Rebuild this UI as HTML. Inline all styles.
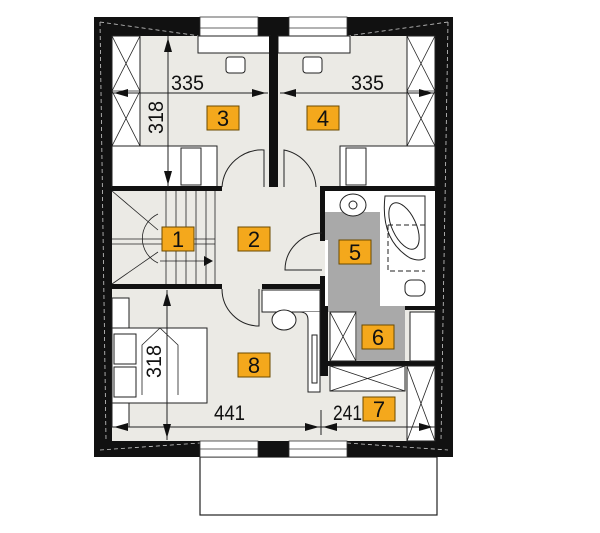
<!DOCTYPE html>
<html><head><meta charset="utf-8"><style>
html,body{margin:0;padding:0;background:#fff;width:600px;height:533px;overflow:hidden}
svg{display:block}
text{font-family:"Liberation Sans Narrow","Liberation Sans",sans-serif}
.n{font-size:22px;fill:#111;text-anchor:middle}
.d{font-size:21px;fill:#111}
</style></head><body>
<svg width="600" height="533" viewBox="0 0 600 533" xmlns="http://www.w3.org/2000/svg">
<rect x="200" y="457" width="237" height="58" fill="#fff" stroke="#222" stroke-width="1.2"/>
<rect x="94" y="17" width="359" height="440" fill="#111"/>
<rect x="112" y="36" width="323" height="405" fill="#ebeae5"/>
<g stroke="#ccc" stroke-width="0.8" stroke-dasharray="4,3" fill="none">
<line x1="100" y1="22" x2="200" y2="36"/><line x1="347" y1="36" x2="448" y2="22"/>
<line x1="100" y1="22" x2="106" y2="440"/><line x1="448" y1="22" x2="441" y2="440"/>
<line x1="100" y1="450" x2="200" y2="443"/><line x1="347" y1="443" x2="448" y2="450"/>
</g>
<g fill="#fff" stroke="#333" stroke-width="0.8">
<rect x="200" y="17" width="58" height="19"/><rect x="289" y="17" width="58" height="19"/>
<rect x="200" y="441" width="58" height="16"/><rect x="289" y="441" width="58" height="16"/>
</g>
<g stroke="#333" stroke-width="0.8">
<line x1="200" y1="28" x2="258" y2="28"/><line x1="289" y1="28" x2="347" y2="28"/>
<line x1="200" y1="449" x2="258" y2="449"/><line x1="289" y1="449" x2="347" y2="449"/>
</g>
<g fill="#fff" stroke="#222" stroke-width="1">
<rect x="198" y="36" width="72" height="17"/><rect x="278" y="36" width="72" height="17"/>
<rect x="226" y="57" width="19" height="16" rx="3"/><rect x="303" y="57" width="19" height="16" rx="3"/>
</g>
<g fill="#fff" stroke="#222" stroke-width="1">
<rect x="112" y="36" width="28" height="110"/><rect x="407" y="36" width="28" height="110"/>
<rect x="112" y="146" width="105" height="41"/><rect x="340" y="146" width="95" height="41"/>
<rect x="181" y="148" width="20" height="37"/><rect x="346" y="148" width="20" height="37"/>
</g>
<g stroke="#222" stroke-width="0.8">
<line x1="112" y1="36" x2="140" y2="91"/><line x1="140" y1="36" x2="112" y2="91"/>
<line x1="112" y1="91" x2="140" y2="146"/><line x1="140" y1="91" x2="112" y2="146"/>
<line x1="407" y1="36" x2="435" y2="91"/><line x1="435" y1="36" x2="407" y2="91"/>
<line x1="407" y1="91" x2="435" y2="146"/><line x1="435" y1="91" x2="407" y2="146"/>
<line x1="112" y1="91" x2="140" y2="91"/><line x1="407" y1="91" x2="435" y2="91"/>
</g>
<rect x="269" y="36" width="9" height="151" fill="#111"/>
<g fill="#111">
<rect x="112" y="186" width="110" height="5"/><rect x="320" y="186" width="115" height="5"/>
<rect x="112" y="284" width="110" height="5"/><rect x="262" y="284" width="68" height="5"/>
<rect x="320" y="186" width="5" height="55"/><rect x="320" y="276" width="8" height="100"/>
<rect x="325" y="290" width="30" height="22"/>
<rect x="328" y="361" width="107" height="5"/>
<rect x="405" y="306" width="30" height="4"/>
</g>
<g fill="none" stroke="#222" stroke-width="1">
<path d="M222 187 A40 40 0 0 1 264 150 L264 187"/>
<path d="M316 187 A40 40 0 0 0 284 150 L284 187"/>
<path d="M322 270 L285 270 A37 37 0 0 1 322 233"/>
<path d="M222 289 A37 37 0 0 0 259 326 L259 289"/>
</g>
<g stroke="#222" stroke-width="0.8" fill="none">
<line x1="112" y1="239" x2="215" y2="239"/><line x1="112" y1="244" x2="215" y2="244"/>
<line x1="166" y1="191" x2="166" y2="284"/><line x1="176" y1="191" x2="176" y2="284"/>
<line x1="186" y1="191" x2="186" y2="284"/><line x1="196" y1="191" x2="196" y2="284"/>
<line x1="206" y1="191" x2="206" y2="284"/><line x1="215" y1="191" x2="215" y2="284"/>
<path d="M158 214 A27 27 0 0 0 158 263"/>
<line x1="112" y1="191" x2="158" y2="230"/><line x1="112" y1="284" x2="158" y2="252"/>
<line x1="160" y1="261" x2="210" y2="261"/>
</g>
<polygon points="204,256 213,261 204,266" fill="#111"/>
<rect x="325" y="191" width="110" height="115" fill="#fff"/>
<polygon points="325,212 380,212 380,306 405,306 405,361 357,361 357,312 328,312 328,240 325,240" fill="#a9a9a9"/>
<g fill="#fff" stroke="#222" stroke-width="1">
<ellipse cx="353" cy="205" rx="13" ry="11"/><circle cx="353" cy="205" r="4"/>
<path d="M385 196 L425 196 L425 258 Q420 262 410 258 Q380 240 385 196Z"/>
<ellipse cx="404" cy="226" rx="12" ry="25" transform="rotate(-25 404 226)"/>
<rect x="405" y="280" width="20" height="16" rx="6"/>
<rect x="410" y="312" width="25" height="49"/>
</g>
<path d="M388 225 L425 225 M388 225 L388 271 L425 271" stroke="#222" stroke-dasharray="5,3" fill="none"/>
<g fill="#fff" stroke="#222" stroke-width="1">
<rect x="112" y="298" width="17" height="30"/>
<rect x="112" y="328" width="95" height="75"/>
<rect x="114" y="334" width="22" height="30"/><rect x="114" y="367" width="22" height="30"/>
<rect x="112" y="403" width="17" height="24"/>
<rect x="262" y="290" width="58" height="22"/>
<path d="M262 312 L300 312 Q308 312 308 320 L308 392 L320 392 L320 312"/>
<ellipse cx="284" cy="320" rx="12" ry="10"/>
<rect x="312" y="335" width="5" height="48"/>
<rect x="330" y="312" width="26" height="49"/>
<rect x="330" y="366" width="75" height="25"/>
<rect x="407" y="366" width="28" height="75"/>
</g>
<g stroke="#222" stroke-width="0.8">
<line x1="330" y1="312" x2="356" y2="361"/><line x1="356" y1="312" x2="330" y2="361"/>
<line x1="330" y1="366" x2="405" y2="391"/><line x1="405" y1="366" x2="330" y2="391"/>
<line x1="407" y1="366" x2="435" y2="441"/><line x1="435" y1="366" x2="407" y2="441"/>
<polyline points="142,395 142,345 160,328 178,345 178,395" fill="none"/>
</g>
<g stroke="#222" stroke-width="1">
<line x1="168" y1="36" x2="168" y2="187"/><line x1="112" y1="93" x2="268" y2="93"/>
<line x1="280" y1="93" x2="435" y2="93"/>
<line x1="167" y1="290" x2="167" y2="440"/><line x1="112" y1="427" x2="435" y2="427"/>
<line x1="321" y1="410" x2="321" y2="435"/>
</g>
<g fill="#111">
<polygon points="168,38 164,52 172,52"/><polygon points="168,185 164,171 172,171"/>
<polygon points="266,93 252,89 252,97"/><polygon points="282,93 296,89 296,97"/>
<polygon points="114,93 128,89 128,97"/><polygon points="433,93 419,89 419,97"/>
<polygon points="167,292 163,306 171,306"/><polygon points="167,438 163,424 171,424"/>
<polygon points="114,427 128,423 128,431"/><polygon points="319,427 305,423 305,431"/>
<polygon points="323,427 337,423 337,431"/><polygon points="433,427 419,423 419,431"/>
</g>
<text class="d" x="171" y="90" textLength="33" lengthAdjust="spacingAndGlyphs">335</text>
<text class="d" x="351" y="90" textLength="33" lengthAdjust="spacingAndGlyphs">335</text>
<text class="d" x="214" y="420" textLength="31" lengthAdjust="spacingAndGlyphs">441</text>
<text class="d" x="333" y="420" textLength="29" lengthAdjust="spacingAndGlyphs">241</text>
<text class="d" transform="translate(163,134) rotate(-90)" textLength="33" lengthAdjust="spacingAndGlyphs">318</text>
<text class="d" transform="translate(161,378) rotate(-90)" textLength="33" lengthAdjust="spacingAndGlyphs">318</text>
<g fill="#f4a81c" stroke="#6b4a00" stroke-width="1">
<rect x="207" y="106" width="32" height="24"/><rect x="307" y="106" width="32" height="24"/>
<rect x="162" y="227" width="32" height="24"/><rect x="238" y="227" width="32" height="24"/>
<rect x="339" y="240" width="32" height="24"/><rect x="362" y="325" width="32" height="24"/>
<rect x="363" y="397" width="32" height="24"/><rect x="238" y="353" width="32" height="24"/>
</g>
<text class="n" x="223" y="126">3</text><text class="n" x="323" y="126">4</text>
<text class="n" x="178" y="247">1</text><text class="n" x="254" y="247">2</text>
<text class="n" x="355" y="260">5</text><text class="n" x="378" y="345">6</text>
<text class="n" x="379" y="417">7</text><text class="n" x="254" y="373">8</text>
</svg>
</body></html>
